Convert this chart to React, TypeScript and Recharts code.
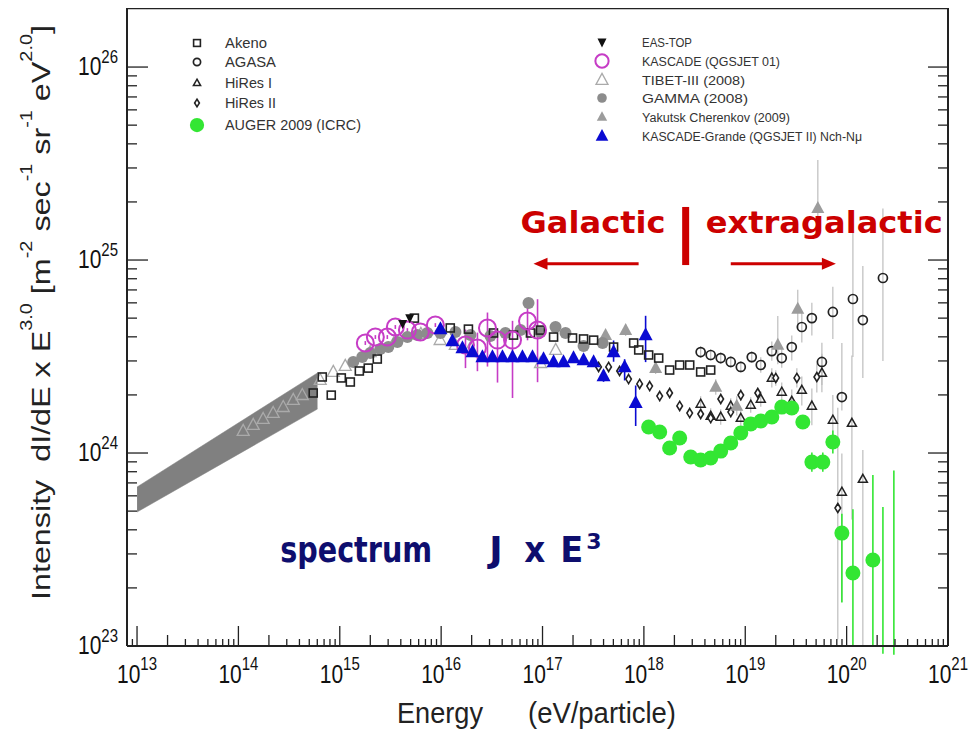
import React from 'react';
import {
  ComposedChart, Scatter, Area, XAxis, YAxis, ReferenceLine, ReferenceDot,
  ErrorBar, Legend, Label,
} from 'recharts';

type P = [number, number];

// ---------- data: x = log10(E / eV), y = log10(J x E^3 [m^-2 s^-1 sr^-1 eV^2]) ----------
const bandLogE = [13.0, 14.78];
const bandLow = [23.694, 24.228];
const bandHigh = [23.824, 24.415];

const tibetData: P[] = [
  [14.047, 24.114], [14.146, 24.145], [14.244, 24.176], [14.343, 24.207], [14.442, 24.238],
  [14.541, 24.275], [14.63, 24.30], [14.807, 24.378], [14.936, 24.42], [15.054, 24.451],
  [15.30, 24.523], [15.55, 24.585], [15.80, 24.617], [15.99, 24.585], [16.14, 24.56],
  [16.29, 24.544], [16.98, 24.466], [17.13, 24.534],
];

const akenoData: P[] = [
  [14.738, 24.311], [14.827, 24.394], [14.916, 24.30], [15.015, 24.389], [15.104, 24.368],
  [15.193, 24.425], [15.281, 24.44], [15.37, 24.487], [15.736, 24.699], [16.09, 24.648],
  [16.269, 24.642], [16.516, 24.622], [16.714, 24.611], [16.881, 24.622], [16.98, 24.637],
  [17.109, 24.601], [17.296, 24.596], [17.405, 24.591], [17.504, 24.585], [17.701, 24.549],
  [17.899, 24.57], [17.949, 24.534], [18.047, 24.508], [18.146, 24.492], [18.254, 24.43],
  [18.353, 24.456], [18.452, 24.456], [18.56, 24.42], [18.659, 24.43],
];

const agasaData: P[] = [
  [18.56, 24.523], [18.659, 24.508], [18.758, 24.492], [18.857, 24.472], [18.956, 24.446],
  [19.064, 24.497], [19.153, 24.456], [19.262, 24.528], [19.36, 24.492], [19.459, 24.549],
  [19.558, 24.653], [19.657, 24.699], [19.756, 24.472], [19.864, 24.731], [19.953, 24.29],
  [20.062, 24.798], [20.16, 24.689], [20.358, 24.907],
];
const agasaErr: P[] = [
  [0.03, 0.03], [0.03, 0.03], [0.03, 0.03], [0.03, 0.03], [0.03, 0.03],
  [0.03, 0.03], [0.04, 0.04], [0.05, 0.05], [0.05, 0.05], [0.07, 0.06],
  [0.08, 0.08], [0.09, 0.08], [0.12, 0.1], [0.14, 0.13], [0.07, 0.28],
  [0.3, 0.39], [0.3, 0.28], [0.43, 0.36],
];

const hires1Data: P[] = [
  [18.56, 24.254], [18.659, 24.192], [18.758, 24.187], [18.857, 24.244], [18.956, 24.181],
  [19.054, 24.249], [19.153, 24.28], [19.262, 24.389], [19.36, 24.316], [19.459, 24.269],
  [19.558, 24.326], [19.657, 24.244], [19.756, 24.415], [19.864, 24.171], [19.953, 23.798],
  [20.052, 24.155], [20.16, 23.865],
];
const hires1Err: P[] = [
  [0.04, 0.04], [0.04, 0.04], [0.04, 0.04], [0.04, 0.04], [0.04, 0.04],
  [0.04, 0.04], [0.04, 0.04], [0.05, 0.05], [0.06, 0.05], [0.07, 0.06],
  [0.08, 0.07], [0.1, 0.09], [0.1, 0.1], [0.14, 0.13], [0.57, 0.2],
  [0.5, 0.35], [0.87, 0.15],
];

const hires2Data: P[] = [
  [17.553, 24.446], [17.652, 24.446], [17.76, 24.425], [17.849, 24.383], [17.958, 24.358],
  [18.057, 24.347], [18.156, 24.295], [18.254, 24.311], [18.353, 24.244], [18.452, 24.207],
  [18.56, 24.202], [18.659, 24.181], [18.758, 24.28], [18.857, 24.212], [18.956, 24.3],
  [19.123, 24.311], [19.301, 24.389], [19.509, 24.389], [19.706, 24.394], [19.913, 23.715],
];
const hires2Err: P[] = [
  [0.03, 0.03], [0.03, 0.03], [0.03, 0.03], [0.03, 0.03], [0.03, 0.03],
  [0.03, 0.03], [0.03, 0.03], [0.03, 0.03], [0.03, 0.03], [0.03, 0.03],
  [0.03, 0.03], [0.03, 0.03], [0.03, 0.03], [0.03, 0.03], [0.03, 0.03],
  [0.03, 0.03], [0.04, 0.04], [0.05, 0.05], [0.08, 0.07], [0.68, 0.52],
];

const augerData: P[] = [
  [18.047, 24.135], [18.156, 24.109], [18.254, 24.026], [18.353, 24.078], [18.462, 23.979],
  [18.56, 23.964], [18.659, 23.974], [18.758, 24.01], [18.857, 24.052], [18.956, 24.104],
  [19.054, 24.15], [19.153, 24.166], [19.262, 24.187], [19.36, 24.238], [19.459, 24.233],
  [19.568, 24.161], [19.657, 23.953], [19.765, 23.953], [19.864, 24.057], [19.953, 23.585],
  [20.062, 23.378], [20.259, 23.446],
];
const augerErr: P[] = [
  [0.01, 0.01], [0.01, 0.01], [0.01, 0.01], [0.01, 0.01], [0.01, 0.01],
  [0.01, 0.01], [0.01, 0.01], [0.01, 0.01], [0.01, 0.01], [0.01, 0.01],
  [0.01, 0.01], [0.01, 0.01], [0.01, 0.01], [0.01, 0.01], [0.01, 0.01],
  [0.01, 0.01], [0.05, 0.05], [0.05, 0.05], [0.06, 0.06], [0.36, 0.1],
  [0.38, 0.33], [0.45, 0.44],
];
const augerLimitData: P[] = [[20.358, 23.36], [20.466, 23.455]];
const augerLimitErr: P[] = [[0.4, 0.36], [0.5, 0.455]];

const gammaData: P[] = [
  [15.133, 24.472], [15.222, 24.497], [15.301, 24.518], [15.40, 24.539], [15.479, 24.549],
  [15.568, 24.575], [15.667, 24.601], [15.765, 24.611], [15.864, 24.622], [15.993, 24.622],
  [16.141, 24.627], [16.289, 24.611], [16.486, 24.606], [16.634, 24.622], [16.783, 24.637],
  [16.862, 24.777], [16.98, 24.627], [17.128, 24.653], [17.227, 24.622], [17.405, 24.554],
  [17.593, 24.57],
];

const kascadeData: P[] = [
  [15.252, 24.57], [15.351, 24.601], [15.469, 24.601], [15.548, 24.653], [15.667, 24.637],
  [15.795, 24.627], [15.943, 24.663], [16.24, 24.56], [16.358, 24.544], [16.457, 24.648],
  [16.556, 24.585], [16.704, 24.585], [16.852, 24.684], [16.951, 24.637],
];
const kascadeErr: P[] = [
  [0.01, 0.01], [0.01, 0.01], [0.01, 0.01], [0.01, 0.01], [0.01, 0.01],
  [0.01, 0.01], [0.01, 0.01], [0.12, 0.08], [0.12, 0.08], [0.2, 0.08],
  [0.22, 0.05], [0.3, 0.1], [0.1, 0.08], [0.27, 0.16],
];

const kgData: P[] = [
  [15.993, 24.642], [16.111, 24.58], [16.21, 24.544], [16.309, 24.523], [16.407, 24.497],
  [16.506, 24.497], [16.605, 24.497], [16.704, 24.497], [16.802, 24.497], [16.901, 24.497],
  [17.01, 24.487], [17.109, 24.472], [17.207, 24.472], [17.306, 24.492], [17.405, 24.482],
  [17.504, 24.472], [17.602, 24.399], [17.701, 24.523], [17.81, 24.446], [17.919, 24.26],
  [18.017, 24.611],
];
const kgErr: P[] = [
  [0.02, 0.02], [0.02, 0.02], [0.02, 0.02], [0.02, 0.02], [0.02, 0.02],
  [0.02, 0.02], [0.02, 0.02], [0.02, 0.02], [0.02, 0.02], [0.02, 0.02],
  [0.02, 0.02], [0.02, 0.02], [0.02, 0.02], [0.02, 0.02], [0.02, 0.02],
  [0.02, 0.02], [0.03, 0.03], [0.05, 0.06], [0.07, 0.04], [0.12, 0.09],
  [0.14, 0.1],
];

const yakutskData: P[] = [
  [17.622, 24.611], [17.82, 24.637], [18.116, 24.44], [18.709, 24.342], [18.916, 24.244],
  [19.321, 24.56], [19.518, 24.746], [19.716, 25.269],
];
const yakutskErr: P[] = [
  [0.03, 0.03], [0.03, 0.03], [0.03, 0.03], [0.04, 0.04], [0.05, 0.05],
  [0.1, 0.15], [0.1, 0.1], [0.1, 0.25],
];

const easTopData: P[] = [[15.62, 24.67], [15.69, 24.70]];

const legendLeftNames = ['Akeno', 'AGASA', 'HiRes I', 'HiRes II', 'AUGER 2009 (ICRC)'];
const legendRightNames = [
  'EAS-TOP', 'KASCADE (QGSJET 01)', 'TIBET-III (2008)', 'GAMMA (2008)',
  'Yakutsk Cherenkov (2009)', 'KASCADE-Grande (QGSJET II) Nch-N\u03bc',
];

const xExponents = [13, 14, 15, 16, 17, 18, 19, 20, 21];
const yExponents = [23, 24, 25, 26];

// ---------- layout / style ----------
const X_MIN = 12.901;
const X_MAX = 21;
const Y_MIN = 23;
const Y_MAX = 26.306;
const FONT = '"Liberation Sans", Arial, Helvetica, sans-serif';
const DFONT = '"DejaVu Sans", Verdana, sans-serif';
const RED = '#cc0000';
const NAVY = '#0e0e6e';
const GREEN = '#33e633';
const MAGENTA = '#c63cc6';
const BLUE = '#0a0ad2';
const AXIS = '#222';

const xTicks: number[] = [];
for (let n = 12; n <= 20; n++) {
  for (let k = 1; k <= 9; k++) {
    const v = n + Math.log10(k);
    if (v >= 12.95 && v < X_MAX) xTicks.push(v);
  }
}
xTicks.push(21);
const yTicks: number[] = [];
for (let n = 23; n <= 25; n++) {
  for (let k = 1; k <= 9; k++) yTicks.push(n + Math.log10(k));
}
yTicks.push(26);

const isMajor = (v: number) => Math.abs(v - Math.round(v)) < 1e-6;
const isTwo = (v: number) => Math.abs(v - Math.floor(v + 1e-9) - Math.log10(2)) < 1e-6;

const bandData = bandLogE.map((x, i) => ({ x, band: [bandLow[i], bandHigh[i]] }));
const pts = (d: P[], e?: P[]) => d.map(([x, y], i) => ({ x, y, err: e ? e[i] : [0, 0] }));

// ---------- markers ----------
const triPts = (cx: number, cy: number, w: number, h: number, down = false) =>
  down
    ? `${cx},${cy + h * 0.6} ${cx + w / 2},${cy - h * 0.4} ${cx - w / 2},${cy - h * 0.4}`
    : `${cx},${cy - h * 0.6} ${cx + w / 2},${cy + h * 0.4} ${cx - w / 2},${cy + h * 0.4}`;

type MK = (cx: number, cy: number, s: number) => React.ReactElement;
const MARK: Record<string, MK> = {
  akeno: (cx, cy, s) => <rect x={cx - 4 * s} y={cy - 4 * s} width={8 * s} height={8 * s} fill="none" stroke={AXIS} strokeWidth={1.6} />,
  agasa: (cx, cy, s) => <circle cx={cx} cy={cy} r={4.5 * s} fill="none" stroke={AXIS} strokeWidth={1.7} />,
  hires1: (cx, cy, s) => <polygon points={triPts(cx, cy, 9 * s, 8 * s)} fill="none" stroke={AXIS} strokeWidth={1.5} />,
  hires2: (cx, cy, s) => <polygon points={`${cx},${cy - 4.5 * s} ${cx + 2.8 * s},${cy} ${cx},${cy + 4.5 * s} ${cx - 2.8 * s},${cy}`} fill="#fff" stroke={AXIS} strokeWidth={1.6} />,
  auger: (cx, cy, s) => <circle cx={cx} cy={cy} r={7.5 * s} fill={GREEN} />,
  eas: (cx, cy, s) => <polygon points={triPts(cx, cy, 9 * s, 9 * s, true)} fill="#111" />,
  kascade: (cx, cy, s) => <circle cx={cx} cy={cy} r={8.5 * s} fill="none" stroke={MAGENTA} strokeWidth={2} />,
  tibet: (cx, cy, s) => <polygon points={triPts(cx, cy, 12 * s, 11 * s)} fill="none" stroke="#aaa" strokeWidth={1.3} />,
  gamma: (cx, cy, s) => <circle cx={cx} cy={cy} r={6 * s} fill="#8c8c8c" />,
  yakutsk: (cx, cy, s) => <polygon points={triPts(cx, cy, 13 * s, 12 * s)} fill="#9c9c9c" />,
  kg: (cx, cy, s) => <polygon points={triPts(cx, cy, 14 * s, 13 * s)} fill={BLUE} />,
};
const shapeOf = (k: string) => (p: any) => MARK[k](p.cx, p.cy, 1);
const noShape = () => <g />;

// ---------- axes ----------
const XTick = (props: any) => {
  const { x, y, payload } = props;
  const v = payload.value as number;
  const major = isMajor(v);
  const len = major ? 20 : isTwo(v) ? 11 : 7;
  return (
    <g>
      <line x1={x} x2={x} y1={y} y2={y - len} stroke={AXIS} strokeWidth={1.3} />
      {major && xExponents.includes(Math.round(v)) && (
        <text transform={`translate(${x},${y + 37}) scale(1,1.2)`} textAnchor="middle" fontFamily={FONT} fontSize={21} fill="#111">
          10<tspan fontSize={15} dy={-11}>{Math.round(v)}</tspan>
        </text>
      )}
    </g>
  );
};
const YTickL = (props: any) => {
  const { x, y, payload } = props;
  const v = payload.value as number;
  const major = isMajor(v);
  const len = major ? 21 : 10;
  return (
    <g>
      <line x1={x} x2={x + len} y1={y} y2={y} stroke={AXIS} strokeWidth={1.3} />
      {major && yExponents.includes(Math.round(v)) && (
        <text transform={`translate(${x - 9},${y + 8}) scale(1,1.2)`} textAnchor="end" fontFamily={FONT} fontSize={21} fill="#111">
          10<tspan fontSize={15} dy={-10}>{Math.round(v)}</tspan>
        </text>
      )}
    </g>
  );
};
const YTickR = (props: any) => {
  const { x, y, payload } = props;
  const major = isMajor(payload.value);
  const len = major ? 20 : 10;
  return <line x1={x} x2={x - len} y1={y} y2={y} stroke={AXIS} strokeWidth={1.3} />;
};

const XTitle = (props: any) => {
  const vb = props.viewBox || { x: 119, y: 638 };
  return (
    <g fontFamily={FONT} fontSize={24} fill="#222">
      <text transform={`translate(${vb.x + 270},${vb.y + 77}) scale(1,1.2)`} textLength={86} lengthAdjust="spacingAndGlyphs">Energy</text>
      <text transform={`translate(${vb.x + 401},${vb.y + 77}) scale(1,1.2)`} textLength={148} lengthAdjust="spacingAndGlyphs">(eV/particle)</text>
    </g>
  );
};
const YTitle = (props: any) => {
  const vb = props.viewBox || { x: 59, y: 0, width: 60, height: 638 };
  const bx = vb.x - 17;
  const sy = vb.y + vb.height - 46;
  const sup = { fontSize: 16, dy: -18 } as const;
  return (
    <text transform={`rotate(-90 ${bx} ${sy})`} x={bx} y={sy} fontFamily={FONT} fontSize={26} fill="#222" textLength={575} lengthAdjust="spacingAndGlyphs">
      {'Intensity\u00a0\u00a0dI/dE x E'}<tspan {...sup}>3.0</tspan>
      <tspan dy={18}>{'\u00a0[m'}</tspan><tspan {...sup}>-2</tspan>
      <tspan dy={18}>{'\u00a0sec'}</tspan><tspan {...sup}>-1</tspan>
      <tspan dy={18}>{'\u00a0sr'}</tspan><tspan {...sup}>-1</tspan>
      <tspan dy={18}>{'\u00a0eV'}</tspan><tspan {...sup}>2.0</tspan>
      <tspan dy={18}>]</tspan>
    </text>
  );
};

// ---------- legend ----------
const leftKinds = ['akeno', 'agasa', 'hires1', 'hires2', 'auger'];
const leftScale = [0.85, 0.8, 0.8, 0.85, 0.95];
const leftRows = [35, 54, 75, 95, 117];
const leftWidths = [42, 51, 47, 51, 136];
const rightKinds = ['eas', 'kascade', 'tibet', 'gamma', 'yakutsk', 'kg'];
const rightScale = [1.0, 0.78, 1.0, 0.8, 0.8, 0.9];
const rightRows = [34, 53, 72, 90, 109, 128];
const rightWidths = [50, 138, 103, 106, 148, 220];

const LegendBox = () => (
  <svg width={970} height={150} style={{ display: 'block' }}>
    {legendLeftNames.map((n, i) => (
      <g key={n}>
        {MARK[leftKinds[i]](189, leftRows[i], leftScale[i])}
        <text x={217} y={leftRows[i] + 5} fontFamily={FONT} fontSize={14} fill="#333" textLength={leftWidths[i]} lengthAdjust="spacingAndGlyphs">{n}</text>
      </g>
    ))}
    {legendRightNames.map((n, i) => (
      <g key={n}>
        {MARK[rightKinds[i]](594, rightRows[i], rightScale[i])}
        <text x={634} y={rightRows[i] + 4.5} fontFamily={FONT} fontSize={12.5} fill="#333" textLength={rightWidths[i]} lengthAdjust="spacingAndGlyphs">{n}</text>
      </g>
    ))}
  </svg>
);

// ---------- annotations ----------
const galacticText = 'Galactic';
const extraText = 'extragalactic';
const GalShape = (p: any) => (
  <text x={p.cx} y={p.cy} fontFamily={DFONT} fontWeight="bold" fontSize={31} fill={RED} textLength={145} lengthAdjust="spacingAndGlyphs">{galacticText}</text>
);
const ExtraShape = (p: any) => (
  <text x={p.cx} y={p.cy} fontFamily={DFONT} fontWeight="bold" fontSize={31} fill={RED} textLength={237} lengthAdjust="spacingAndGlyphs">{extraText}</text>
);
const HeadLeft = (p: any) => <polygon points={`${p.cx},${p.cy} ${p.cx + 14},${p.cy - 6} ${p.cx + 14},${p.cy + 6}`} fill={RED} />;
const HeadRight = (p: any) => <polygon points={`${p.cx},${p.cy} ${p.cx - 14},${p.cy - 6} ${p.cx - 14},${p.cy + 6}`} fill={RED} />;
const SpectrumShape = (p: any) => (
  <g fontFamily={DFONT} fontWeight="bold" fill={NAVY} fontSize={36}>
    <text x={p.cx} y={p.cy} textLength={152} lengthAdjust="spacingAndGlyphs">spectrum</text>
    <text x={p.cx + 209} y={p.cy}>J</text>
    <text x={p.cx + 244} y={p.cy} textLength={21} lengthAdjust="spacingAndGlyphs">x</text>
    <text x={p.cx + 280} y={p.cy} textLength={23} lengthAdjust="spacingAndGlyphs">E</text>
    <text x={p.cx + 306} y={p.cy - 13} fontSize={22}>3</text>
  </g>
);

export default function App() {
  return (
    <ComposedChart width={970} height={725} data={bandData} margin={{ top: 0, right: 20, bottom: 57, left: 59 }}>
      <XAxis
        dataKey="x" type="number" domain={[X_MIN, X_MAX]} allowDataOverflow ticks={xTicks} interval={0}
        tick={XTick} tickLine={false} tickSize={0} tickMargin={0} height={30}
        axisLine={{ stroke: AXIS, strokeWidth: 2 }}
      >
        <Label content={XTitle} />
      </XAxis>
      <YAxis
        dataKey="y" type="number" domain={[Y_MIN, Y_MAX]} allowDataOverflow ticks={yTicks} interval={0}
        tick={YTickL} tickLine={false} tickSize={0} tickMargin={0} width={60}
        axisLine={{ stroke: AXIS, strokeWidth: 2 }}
      >
        <Label content={YTitle} />
      </YAxis>
      <YAxis
        yAxisId="r" orientation="right" type="number" domain={[Y_MIN, Y_MAX]} allowDataOverflow ticks={yTicks}
        interval={0} tick={YTickR} tickLine={false} tickSize={0} tickMargin={0} width={10}
        axisLine={{ stroke: AXIS, strokeWidth: 2 }}
      />
      <ReferenceLine y={Y_MAX} stroke={AXIS} strokeWidth={2.5} />

      <Area dataKey="band" type="linear" fill="#808080" fillOpacity={1} stroke="#808080" strokeWidth={0.5} isAnimationActive={false} />

      <Scatter name="TIBET-III (2008)" data={pts(tibetData)} shape={shapeOf('tibet')} isAnimationActive={false} />
      <Scatter name="AGASA" data={pts(agasaData, agasaErr)} shape={shapeOf('agasa')} isAnimationActive={false}>
        <ErrorBar dataKey="err" direction="y" width={0} stroke="#bdbdbd" strokeWidth={1.2} />
      </Scatter>
      <Scatter name="HiRes I" data={pts(hires1Data, hires1Err)} shape={shapeOf('hires1')} isAnimationActive={false}>
        <ErrorBar dataKey="err" direction="y" width={0} stroke="#bdbdbd" strokeWidth={1.2} />
      </Scatter>
      <Scatter name="HiRes II" data={pts(hires2Data, hires2Err)} shape={shapeOf('hires2')} isAnimationActive={false}>
        <ErrorBar dataKey="err" direction="y" width={0} stroke="#bdbdbd" strokeWidth={1.2} />
      </Scatter>
      <Scatter name="Yakutsk Cherenkov (2009)" data={pts(yakutskData, yakutskErr)} shape={shapeOf('yakutsk')} isAnimationActive={false}>
        <ErrorBar dataKey="err" direction="y" width={0} stroke="#bdbdbd" strokeWidth={1.2} />
      </Scatter>
      <Scatter name="GAMMA (2008)" data={pts(gammaData)} shape={shapeOf('gamma')} isAnimationActive={false} />
      <Scatter name="Akeno" data={pts(akenoData)} shape={shapeOf('akeno')} isAnimationActive={false} />
      <Scatter name="KASCADE (QGSJET 01)" data={pts(kascadeData, kascadeErr)} shape={shapeOf('kascade')} isAnimationActive={false}>
        <ErrorBar dataKey="err" direction="y" width={0} stroke={MAGENTA} strokeWidth={1.6} />
      </Scatter>
      <Scatter name="KASCADE-Grande" data={pts(kgData, kgErr)} shape={shapeOf('kg')} isAnimationActive={false}>
        <ErrorBar dataKey="err" direction="y" width={0} stroke={BLUE} strokeWidth={1.6} />
      </Scatter>
      <Scatter name="EAS-TOP" data={pts(easTopData)} shape={shapeOf('eas')} isAnimationActive={false} />
      <Scatter name="AUGER limits" data={pts(augerLimitData, augerLimitErr)} shape={noShape} isAnimationActive={false}>
        <ErrorBar dataKey="err" direction="y" width={0} stroke={GREEN} strokeWidth={1.6} />
      </Scatter>
      <Scatter name="AUGER 2009 (ICRC)" data={pts(augerData, augerErr)} shape={shapeOf('auger')} isAnimationActive={false}>
        <ErrorBar dataKey="err" direction="y" width={0} stroke={GREEN} strokeWidth={1.6} />
      </Scatter>

      <ReferenceDot x={16.783} y={25.14} r={1} shape={GalShape} />
      <ReferenceDot x={18.61} y={25.14} r={1} shape={ExtraShape} />
      <ReferenceLine segment={[{ x: 18.412, y: 24.974 }, { x: 18.412, y: 25.275 }]} stroke={RED} strokeWidth={7} />
      <ReferenceLine segment={[{ x: 17.948, y: 24.981 }, { x: 17.03, y: 24.981 }]} stroke={RED} strokeWidth={3} />
      <ReferenceDot x={16.911} y={24.981} r={1} shape={HeadLeft} />
      <ReferenceLine segment={[{ x: 18.857, y: 24.981 }, { x: 19.77, y: 24.981 }]} stroke={RED} strokeWidth={3} />
      <ReferenceDot x={19.894} y={24.981} r={1} shape={HeadRight} />
      <ReferenceDot x={14.412} y={23.435} r={1} shape={SpectrumShape} />

      <Legend
        content={LegendBox} layout="horizontal" verticalAlign="middle" align="center"
        wrapperStyle={{ top: 0, left: 0, width: 970, height: 150 }}
      />
    </ComposedChart>
  );
}
